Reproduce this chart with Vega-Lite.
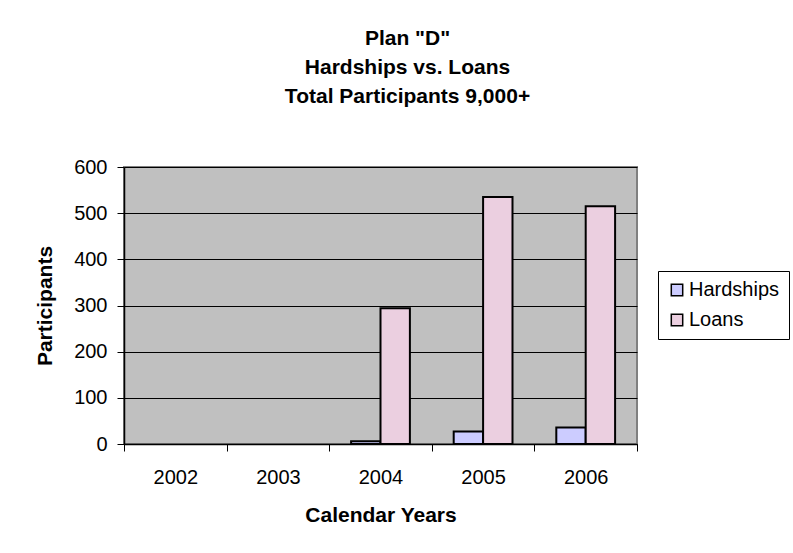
{
  "$schema": "https://vega.github.io/schema/vega-lite/v6.json",
  "width": 513,
  "height": 277,
  "autosize": {"type": "none"},
  "padding": {"left": 124, "top": 167, "right": 156, "bottom": 109},
  "background": "white",
  "title": {
    "text": ["Plan \"D\"", "Hardships vs. Loans", "Total Participants 9,000+"],
    "font": "Liberation Sans",
    "fontSize": 21,
    "fontWeight": "bold",
    "lineHeight": 29,
    "anchor": "middle",
    "dx": 27,
    "offset": 50,
    "color": "black"
  },
  "data": {
    "values": [
      {"year": "2004", "series": "Hardships", "value": 6},
      {"year": "2004", "series": "Loans", "value": 294},
      {"year": "2005", "series": "Hardships", "value": 27},
      {"year": "2005", "series": "Loans", "value": 535},
      {"year": "2006", "series": "Hardships", "value": 36},
      {"year": "2006", "series": "Loans", "value": 515}
    ]
  },
  "mark": {"type": "bar", "stroke": "black", "strokeWidth": 2},
  "encoding": {
    "x": {
      "field": "year",
      "type": "nominal",
      "scale": {"domain": ["2002", "2003", "2004", "2005", "2006"], "paddingInner": 0, "paddingOuter": 0},
      "axis": {
        "title": "Calendar Years",
        "labelAngle": 0,
        "tickBand": "extent",
        "tickSize": 7,
        "tickColor": "black",
        "domainColor": "black",
        "domainWidth": 1.5,
        "labelFont": "Liberation Sans",
        "labelFontSize": 20,
        "labelColor": "black",
        "labelPadding": 16,
        "titleFont": "Liberation Sans",
        "titleFontSize": 21,
        "titleFontWeight": "bold",
        "titleColor": "black",
        "titlePadding": 17
      }
    },
    "xOffset": {"field": "series", "type": "nominal", "scale": {"domain": ["Hardships", "Loans"], "paddingInner": 0, "paddingOuter": 0.745}},
    "y": {
      "field": "value",
      "type": "quantitative",
      "scale": {"domain": [0, 600]},
      "axis": {
        "title": "Participants",
        "values": [0, 100, 200, 300, 400, 500, 600],
        "grid": true,
        "gridColor": "black",
        "gridWidth": 1,
        "tickSize": 7,
        "tickColor": "black",
        "domainColor": "black",
        "domainWidth": 1.5,
        "labelFont": "Liberation Sans",
        "labelFontSize": 20,
        "labelColor": "black",
        "labelPadding": 10,
        "titleFont": "Liberation Sans",
        "titleFontSize": 21,
        "titleFontWeight": "bold",
        "titleColor": "black",
        "titlePadding": 18
      }
    },
    "fill": {
      "field": "series",
      "type": "nominal",
      "scale": {"domain": ["Hardships", "Loans"], "range": ["#CCCCFF", "#EBCFE0"]},
      "legend": {
        "title": null,
        "orient": "none",
        "legendX": 534,
        "legendY": 104,
        "strokeColor": "black",
        "padding": 9,
        "symbolType": "square",
        "symbolSize": 130,
        "symbolStrokeColor": "black",
        "symbolStrokeWidth": 1.5,
        "labelFont": "Liberation Sans",
        "labelFontSize": 20,
        "labelColor": "black",
        "labelOffset": 2,
        "rowPadding": 10,
        "labelLimit": 200
      }
    }
  },
  "config": {
    "view": {"fill": "#C0C0C0", "stroke": "#808080", "strokeWidth": 2}
  }
}
